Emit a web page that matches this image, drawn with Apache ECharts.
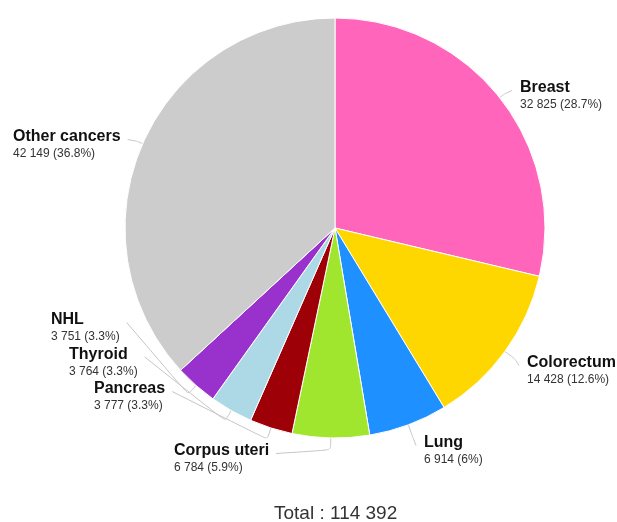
<!DOCTYPE html>
<html><head><meta charset="utf-8">
<script src="https://cdn.jsdelivr.net/npm/echarts@6/dist/echarts.min.js"></script>
<style>html,body{margin:0;padding:0;background:#fff}#c{width:617px;height:522px}</style>
</head><body><div id="c"></div>
<script>
const categories = ['Breast','Colorectum','Lung','Corpus uteri','Pancreas','Thyroid','NHL','Other cancers'];
const values = [32825, 14428, 6914, 6784, 3777, 3764, 3751, 42149];
const colors = ['#ff66bb','#ffd700','#1e90ff','#a0e62e','#9e0008','#add8e6','#9932cc','#cccccc'];
const total = values.reduce((a,b)=>a+b,0);
function fmt(n){return String(n).replace(/\B(?=(\d{3})+(?!\d))/g,' ');}
function pct(v){return parseFloat((v/total*100).toFixed(1));}

// layout (label block top-left positions), not data
const CX = 335, CY = 228, R = 210;
const labelPos = {
  'Breast':[520,78.5], 'Colorectum':[527,353.5], 'Lung':[424,433.5], 'Corpus uteri':[174,441.5],
  'Pancreas':[94,379.5], 'Thyroid':[69,345], 'NHL':[51,310.5], 'Other cancers':[13,127.5]
};
// mid angles of slices (clockwise from top), derived from the values
const midAng = [];
{ let acc = 0; values.forEach(v => { midAng.push((acc + v/2)/total*2*Math.PI); acc += v; }); }

const chart = echarts.init(document.getElementById('c'));
chart.setOption({
  animation:false,
  title:{text:'Total : '+fmt(total),left:269,top:499,textStyle:{fontFamily:'Liberation Sans',fontSize:19,fontWeight:'normal',color:'#333'}},
  series:[{
    type:'pie',
    center:[CX,CY],
    radius:R,
    startAngle:90,
    clockwise:true,
    data:categories.map((c,i)=>({name:c,value:values[i],itemStyle:{color:colors[i]}})),
    itemStyle:{borderColor:'#fff',borderWidth:1},
    label:{
      overflow:'none',
      align:'left',
      formatter:p=>'{n|'+p.name+'}\n{v|'+fmt(p.value)+' ('+pct(p.value)+'%)}',
      rich:{
        n:{fontFamily:'Liberation Sans',fontSize:16,fontWeight:'bold',color:'#111',lineHeight:19,align:'left'},
        v:{fontFamily:'Liberation Sans',fontSize:12,color:'#333',lineHeight:15,align:'left'}
      }
    },
    labelLine:{show:true,length:10,length2:10,smooth:0.2,lineStyle:{color:'#c4c4c4',width:1}},
    labelLayout:function(p){
      const i = p.dataIndex;
      const name = categories[i];
      const pos = labelPos[name];
      const a = midAng[i];
      const sx = Math.sin(a), sy = -Math.cos(a);
      const p0 = [CX + R*sx, CY + R*sy];
      const off = (name==='Other cancers' || name==='Breast') ? 6 : 12;
      const p1 = [CX + (R+off)*sx, CY + (R+off)*sy];
      const w = p.labelRect.width;
      const left = sx < 0;
      const endY = pos[1] + 12;
      const end = left ? [pos[0] + w + 7, endY] : [pos[0] - 8, endY];
      return {x:pos[0], y:pos[1], align:'left', verticalAlign:'top', labelLinePoints:[p0,p1,end]};
    }
  }]
});
</script></body></html>
